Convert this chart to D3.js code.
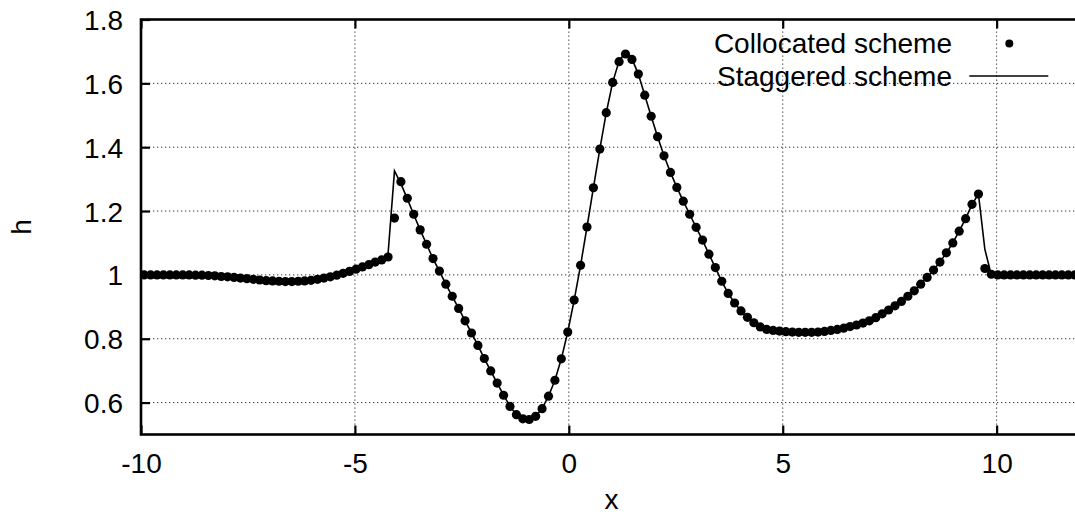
<!DOCTYPE html>
<html>
<head>
<meta charset="utf-8">
<script src="https://cdn.jsdelivr.net/npm/d3@7"></script>
<style>
html,body{margin:0;padding:0;background:#fff;}
svg{display:block;font-family:"Liberation Sans",Arial,Helvetica,sans-serif;}
</style>
</head>
<body>
<svg id="chart" width="1075" height="516"></svg>
<script>
// ---- data ----
const xValues = [
-9.925,-9.775,-9.625,-9.475,-9.325,-9.175,-9.025,-8.875,-8.725,-8.575,
-8.425,-8.275,-8.125,-7.975,-7.825,-7.675,-7.525,-7.375,-7.225,-7.075,
-6.925,-6.775,-6.625,-6.475,-6.325,-6.175,-6.025,-5.875,-5.725,-5.575,
-5.425,-5.275,-5.125,-4.975,-4.825,-4.675,-4.525,-4.375,-4.225,-4.075,
-3.925,-3.775,-3.625,-3.475,-3.325,-3.175,-3.025,-2.875,-2.725,-2.575,
-2.425,-2.275,-2.125,-1.975,-1.825,-1.675,-1.525,-1.375,-1.225,-1.075,
-0.925,-0.775,-0.625,-0.475,-0.325,-0.175,-0.025,0.125,0.275,0.425,
0.575,0.725,0.875,1.025,1.175,1.325,1.475,1.625,1.775,1.925,
2.075,2.225,2.375,2.525,2.675,2.825,2.975,3.125,3.275,3.425,
3.575,3.725,3.875,4.025,4.175,4.325,4.475,4.625,4.775,4.925,
5.075,5.225,5.375,5.525,5.675,5.825,5.975,6.125,6.275,6.425,
6.575,6.725,6.875,7.025,7.175,7.325,7.475,7.625,7.775,7.925,
8.075,8.225,8.375,8.525,8.675,8.825,8.975,9.125,9.275,9.425,
9.575,9.725,9.875,10.025,10.175,10.325,10.475,10.625,10.775,10.925,
11.075,11.225,11.375,11.525,11.675,11.825,11.975
];
const hCollocated = [
1.000,1.000,1.000,1.000,1.000,1.000,1.000,1.000,0.999,0.999,
0.998,0.997,0.995,0.994,0.992,0.990,0.988,0.986,0.984,0.982,
0.981,0.980,0.979,0.979,0.980,0.981,0.983,0.986,0.990,0.994,
0.999,1.005,1.011,1.018,1.025,1.032,1.040,1.047,1.056,1.178,
1.292,1.240,1.190,1.141,1.096,1.051,1.012,0.971,0.933,0.895,
0.856,0.818,0.779,0.738,0.699,0.661,0.623,0.588,0.562,0.549,
0.547,0.557,0.581,0.620,0.670,0.737,0.821,0.921,1.030,1.150,
1.273,1.394,1.508,1.603,1.668,1.692,1.675,1.629,1.563,1.497,
1.433,1.373,1.321,1.274,1.231,1.190,1.149,1.109,1.065,1.023,
0.980,0.942,0.912,0.887,0.867,0.850,0.837,0.829,0.826,0.824,
0.822,0.821,0.820,0.820,0.820,0.821,0.823,0.826,0.829,0.833,
0.838,0.843,0.849,0.856,0.866,0.878,0.890,0.903,0.917,0.933,
0.950,0.971,0.992,1.015,1.040,1.069,1.100,1.137,1.176,1.221,
1.253,1.020,1.002,1.000,1.000,1.000,1.000,1.000,1.000,1.000,
1.000,1.000,1.000,1.000,1.000,1.000,1.000
];
const hStaggered = [
1.000,1.000,1.000,1.000,1.000,1.000,1.000,1.000,0.999,0.999,
0.998,0.997,0.995,0.994,0.992,0.990,0.988,0.986,0.984,0.982,
0.981,0.980,0.979,0.979,0.980,0.981,0.983,0.986,0.990,0.994,
0.999,1.005,1.011,1.018,1.025,1.032,1.040,1.048,1.066,1.326,
1.286,1.238,1.189,1.141,1.096,1.051,1.012,0.971,0.933,0.895,
0.856,0.818,0.779,0.738,0.699,0.661,0.623,0.588,0.562,0.549,
0.547,0.557,0.581,0.620,0.670,0.737,0.821,0.921,1.030,1.150,
1.273,1.394,1.508,1.603,1.670,1.698,1.677,1.629,1.563,1.497,
1.433,1.373,1.321,1.274,1.231,1.190,1.149,1.109,1.065,1.023,
0.980,0.942,0.912,0.887,0.867,0.850,0.837,0.829,0.826,0.824,
0.822,0.821,0.820,0.820,0.820,0.821,0.823,0.826,0.829,0.833,
0.838,0.843,0.849,0.856,0.866,0.878,0.890,0.903,0.917,0.933,
0.950,0.971,0.992,1.015,1.040,1.069,1.100,1.137,1.176,1.221,
1.253,1.080,1.000,1.000,1.000,1.000,1.000,1.000,1.000,1.000,
1.000,1.000,1.000,1.000,1.000,1.000,1.000
];
const xTicks = [-10, -5, 0, 5, 10];
const xTickLabels = ["-10", "-5", "0", "5", "10"];
const yTicks = [0.6, 0.8, 1.0, 1.2, 1.4, 1.6, 1.8];
const yTickLabels = ["0.6", "0.8", "1", "1.2", "1.4", "1.6", "1.8"];
const seriesNames = ["Collocated scheme", "Staggered scheme"];
const axisTitles = {x: "x", y: "h"};

// ---- layout ----
const svg = d3.select("#chart");
const L = 141, R = 1082.2, T = 19.5, B = 434.5;
const x = d3.scaleLinear().domain([-10, 12]).range([L, R]);
const y = d3.scaleLinear().domain([0.5, 1.8]).range([B, T]);
const FS = 28;

// grid
const grid = svg.append("g").attr("stroke", "#333").attr("stroke-width", 1).attr("stroke-dasharray", "1.3,2.7");
grid.selectAll(".gx").data(xTicks.filter(d => d > -10)).enter().append("line")
  .attr("x1", d => x(d)).attr("x2", d => x(d)).attr("y1", T).attr("y2", B);
grid.selectAll(".gy").data(yTicks.filter(d => d < 1.8)).enter().append("line")
  .attr("x1", L).attr("x2", R).attr("y1", d => y(d)).attr("y2", d => y(d));

// data
const clip = svg.append("clipPath").attr("id", "clip").append("rect")
  .attr("x", L).attr("y", T).attr("width", R - L).attr("height", B - T);
const plot = svg.append("g").attr("clip-path", "url(#clip)");
const stagData = xValues.map((v, i) => [v, hStaggered[i]]);
const collData = xValues.map((v, i) => [v, hCollocated[i]]);
plot.append("path").datum(stagData)
  .attr("fill", "none").attr("stroke", "#000").attr("stroke-width", 1.6)
  .attr("d", d3.line().x(d => x(d[0])).y(d => y(d[1])));
plot.selectAll("circle").data(collData).enter().append("circle")
  .attr("cx", d => x(d[0])).attr("cy", d => y(d[1])).attr("r", 4.6).attr("fill", "#000");

// axes (gnuplot-like, inward ticks)
const xAxisB = d3.axisBottom(x).tickValues(xTicks).tickSize(-9).tickFormat((d, i) => xTickLabels[i]).tickPadding(26);
const xAxisT = d3.axisTop(x).tickValues(xTicks).tickSize(-9).tickFormat("");
const yAxisL = d3.axisLeft(y).tickValues(yTicks).tickSize(-9).tickFormat((d, i) => yTickLabels[i]).tickPadding(28);
function styleAxis(g) {
  g.select(".domain").remove();
  g.selectAll(".tick line").attr("stroke", "#000").attr("stroke-width", 2.2);
  g.selectAll(".tick text").attr("font-size", FS).attr("fill", "#000")
    .attr("font-family", "'Liberation Sans', Arial, sans-serif");
}
svg.append("g").attr("transform", `translate(0,${B})`).call(xAxisB).call(styleAxis)
  .selectAll(".tick text").attr("dy", null).attr("y", 38.5);
svg.append("g").attr("transform", `translate(0,${T})`).call(xAxisT).call(styleAxis);
svg.append("g").attr("transform", `translate(${L},0)`).call(yAxisL).call(styleAxis)
  .selectAll(".tick text").attr("x", -18).attr("dy", "0.36em");

// border
svg.append("rect").attr("x", L).attr("y", T).attr("width", R - L).attr("height", B - T)
  .attr("fill", "none").attr("stroke", "#000").attr("stroke-width", 2.6);

// axis titles
svg.append("text").attr("x", (L + R) / 2).attr("y", 509).attr("text-anchor", "middle")
  .attr("font-size", FS).text(axisTitles.x);
svg.append("text").attr("transform", `translate(31,${(T + B) / 2}) rotate(-90)`)
  .attr("text-anchor", "middle").attr("font-size", FS).text(axisTitles.y);

// legend
const leg = svg.append("g").attr("font-size", FS);
leg.append("text").attr("x", 952).attr("y", 53.3).attr("text-anchor", "end").text(seriesNames[0]);
leg.append("circle").attr("cx", 1009.3).attr("cy", 43.5).attr("r", 4).attr("fill", "#000");
leg.append("text").attr("x", 952).attr("y", 86).attr("text-anchor", "end").text(seriesNames[1]);
leg.append("line").attr("x1", 969.3).attr("x2", 1048.3).attr("y1", 76).attr("y2", 76)
  .attr("stroke", "#000").attr("stroke-width", 1.6);
</script>
</body>
</html>
